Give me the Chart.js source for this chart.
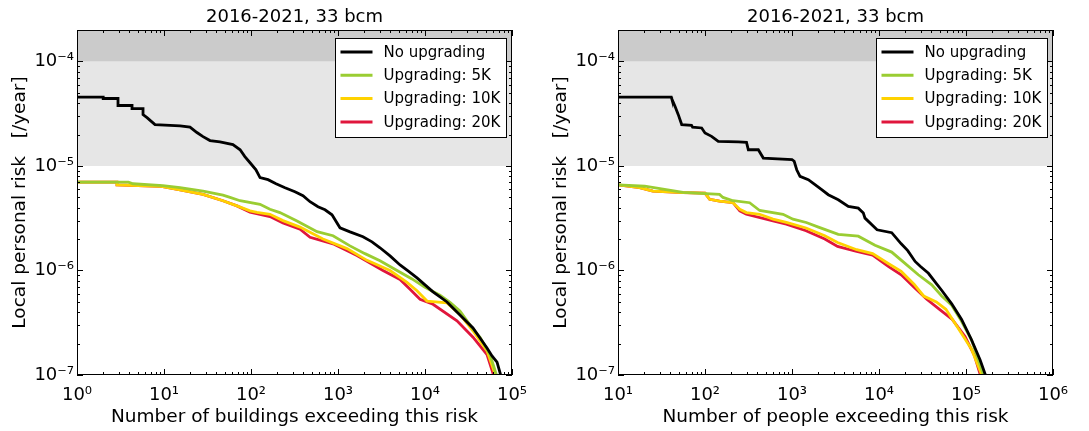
<!DOCTYPE html>
<html>
<head>
<meta charset="utf-8">
<script src="https://cdn.jsdelivr.net/npm/chart.js@4.4.1/dist/chart.umd.min.js"></script>
<style>
  body { margin: 0; background: #fff; }
  #wrap { position: relative; width: 1089px; height: 431px; }
  canvas { position: absolute; top: 0; }
</style>
</head>
<body>
<div id="wrap">
  <canvas id="left" width="545" height="431" style="left:0"></canvas>
  <canvas id="right" width="544" height="431" style="left:545px"></canvas>
</div>
<script>
// series names and colours
const seriesLabels = ['No upgrading', 'Upgrading: 5K', 'Upgrading: 10K', 'Upgrading: 20K'];
const seriesColors = ['#000000', '#9acd32', '#ffd200', '#e0163c'];

// left panel: buildings exceeding risk  [count, risk]  (curve vertices)
const bldNone = [[1,4.55e-5],[2.0,4.55e-5],[2.0,4.42e-5],[2.96,4.42e-5],[2.96,3.79e-5],[4.29,3.79e-5],[4.29,3.54e-5],
  [5.74,3.54e-5],[5.74,3.10e-5],[6.38,2.90e-5],[7.88,2.49e-5],[15.3,2.42e-5],[19.9,2.35e-5],[23.9,2.09e-5],
  [28.1,1.91e-5],[33.8,1.75e-5],[44,1.70e-5],[62,1.60e-5],[75,1.43e-5],[85,1.23e-5],[97,1.08e-5],[114,9.2e-6],
  [127,7.73e-6],[157,7.4e-6],[194,6.77e-6],[246,6.2e-6],[320,5.67e-6],[396,5.19e-6],[477,4.55e-6],[589,4.07e-6],
  [709,3.81e-6],[853,3.41e-6],[1054,2.56e-6],[1374,2.34e-6],[1937,2.10e-6],[2459,1.88e-6],[3040,1.65e-6],
  [3963,1.38e-6],[5164,1.13e-6],[6380,9.9e-7],[8098,8.5e-7],[10000,7.28e-7],[12360,6.24e-7],[14870,5.58e-7],
  [17900,5.0e-7],[20400,4.48e-7],[23300,4.01e-7],[28800,3.36e-7],[35600,2.82e-7],[42900,2.26e-7],[51600,1.81e-7],
  [58900,1.52e-7],[67300,1.33e-7],[76800,9e-8]];
const bld5K = [[1,7.0e-6],[3.9,7.0e-6],[4.4,6.76e-6],[9.7,6.5e-6],[15.3,6.2e-6],[28.1,5.75e-6],[47.6,5.25e-6],
  [57.4,5.0e-6],[74.8,4.65e-6],[127,4.3e-6],[165,3.85e-6],[215,3.58e-6],[338,2.98e-6],[574,2.35e-6],[877,2.15e-6],
  [1374,1.72e-6],[2042,1.45e-6],[3040,1.24e-6],[4770,1.0e-6],[7090,8.3e-7],[10000,6.9e-7],[14870,5.8e-7],
  [19380,4.95e-7],[25200,4.1e-7],[30400,3.3e-7],[35600,2.75e-7],[42900,2.3e-7],[55800,1.57e-7],[69000,9e-8]];
const bld10K = [[1,7.0e-6],[2.88,7.0e-6],[2.88,6.6e-6],[9.0,6.4e-6],[15.3,5.9e-6],[28.1,5.35e-6],[47.6,4.65e-6],
  [69,4.15e-6],[97.4,3.72e-6],[117,3.6e-6],[165,3.45e-6],[233,3.0e-6],[366,2.6e-6],[672,2.0e-6],[1268,1.62e-6],
  [2154,1.25e-6],[3963,1.0e-6],[6210,7.7e-7],[8090,6.4e-7],[10550,5.1e-7],[17900,4.9e-7],[25200,3.8e-7],
  [35600,2.65e-7],[51600,1.7e-7],[67300,9e-8]];
const bld20K = [[1,7.0e-6],[2.88,7.0e-6],[2.88,6.6e-6],[9.0,6.4e-6],[15.3,5.9e-6],[28.1,5.35e-6],[47.6,4.65e-6],
  [69,4.15e-6],[97.4,3.62e-6],[165,3.28e-6],[233,2.85e-6],[366,2.48e-6],[477,2.08e-6],[877,1.8e-6],[1652,1.39e-6],
  [3289,1.0e-6],[5164,8.2e-7],[6730,6.6e-7],[8770,5.3e-7],[12360,4.75e-7],[23300,3.3e-7],[35600,2.3e-7],
  [51600,1.57e-7],[63800,9e-8]];

// right panel: people exceeding risk  [count, risk]
const pplNone = [[10,4.55e-5],[41,4.55e-5],[41.4,4.42e-5],[45.2,3.73e-5],[49.3,3.10e-5],[54,2.49e-5],[70,2.45e-5],
  [72,2.35e-5],[91.6,2.31e-5],[100,2.07e-5],[119,1.92e-5],[142,1.72e-5],[242,1.70e-5],[300,1.68e-5],[315,1.43e-5],
  [410,1.43e-5],[468,1.19e-5],[1000,1.15e-5],[1060,1.11e-5],[1133,9.2e-6],[1236,7.95e-6],[1540,7.39e-6],
  [1838,6.62e-6],[2193,5.93e-6],[2612,5.31e-6],[3404,4.75e-6],[4436,4.10e-6],[5781,3.95e-6],[6607,3.54e-6],
  [6902,3.17e-6],[9500,2.45e-6],[14000,2.3e-6],[18000,1.8e-6],[21400,1.55e-6],[26000,1.22e-6],[30000,1.09e-6],
  [37000,9.4e-7],[45000,7.6e-7],[53000,6.4e-7],[68500,4.8e-7],[89000,3.4e-7],[115000,2.2e-7],[145000,1.4e-7],
  [175000,9e-8]];
const ppl5K = [[10,6.6e-6],[20.3,6.4e-6],[55.8,5.6e-6],[147,5.35e-6],[161,5.0e-6],[210,4.65e-6],[326,4.45e-6],
  [425,3.75e-6],[789,3.45e-6],[1026,3.1e-6],[1459,2.88e-6],[2014,2.6e-6],[3404,2.22e-6],[5781,2.13e-6],
  [8990,1.74e-6],[13990,1.5e-6],[19900,1.17e-6],[28300,9.1e-7],[40400,7.3e-7],[52600,5.7e-7],[68500,4.65e-7],
  [89300,3.25e-7],[116000,2.15e-7],[140000,1.37e-7],[166000,9e-8]];
const ppl10K = [[10,6.6e-6],[17.7,6.2e-6],[25.2,5.75e-6],[55.8,5.55e-6],[100,5.5e-6],[113,4.8e-6],[147,4.62e-6],
  [210,4.45e-6],[251,3.85e-6],[299,3.58e-6],[425,3.45e-6],[605,3.1e-6],[861,2.88e-6],[1450,2.55e-6],[2382,2.15e-6],
  [3340,1.85e-6],[5540,1.58e-6],[8450,1.45e-6],[12900,1.16e-6],[18000,9.8e-7],[25300,7.4e-7],[32600,5.7e-7],
  [45600,5.0e-7],[58700,4.25e-7],[82400,2.75e-7],[115000,1.78e-7],[160000,9e-8]];
const ppl20K = [[10,6.6e-6],[17.7,6.2e-6],[25.2,5.75e-6],[55.8,5.55e-6],[100,5.5e-6],[113,4.8e-6],[147,4.62e-6],
  [210,4.45e-6],[251,3.72e-6],[299,3.45e-6],[605,2.98e-6],[861,2.78e-6],[1450,2.4e-6],[2382,2.0e-6],[3340,1.7e-6],
  [5540,1.52e-6],[8450,1.4e-6],[12900,1.09e-6],[18000,9.1e-7],[25300,6.9e-7],[35400,5.3e-7],[49600,4.25e-7],
  [69500,3.4e-7],[97500,2.33e-7],[125600,1.52e-7],[152000,9e-8]];

// axes
const yTicks = [1e-7, 1e-6, 1e-5, 1e-4];
const xTicksBld = [1, 10, 100, 1e3, 1e4, 1e5];
const xTicksPpl = [10, 100, 1e3, 1e4, 1e5, 1e6];
const bandEdges = [1e-5, 1e-4, 2e-4];   // light grey band, dark grey band
const bandColors = ['#e6e6e6', '#cbcbcb'];

const FONT = 'DejaVu Sans';
const SUP = {'-':'\u207B','0':'\u2070','1':'\u00B9','2':'\u00B2','3':'\u00B3','4':'\u2074','5':'\u2075','6':'\u2076','7':'\u2077','8':'\u2078','9':'\u2079'};
function pow10(v) {
  const e = Math.round(Math.log10(v));
  return '10' + String(e).split('').map(c => SUP[c]).join('');
}

const frame = {
  id: 'frame',
  beforeDatasetsDraw(chart) {
    const {ctx, chartArea: a, scales: {y}} = chart;
    ctx.save();
    for (let i = 0; i < bandColors.length; i++) {
      const y0 = y.getPixelForValue(bandEdges[i]), y1 = y.getPixelForValue(bandEdges[i + 1]);
      ctx.fillStyle = bandColors[i];
      ctx.fillRect(a.left, y1, a.right - a.left, y0 - y1);
    }
    ctx.restore();
  },
  afterDraw(chart) {
    const {ctx, chartArea: a, scales: {x, y}} = chart;
    const o = chart.options.plugins.frame;
    ctx.save();
    ctx.strokeStyle = '#000';
    ctx.lineWidth = 1;
    // log ticks, inward on all four sides
    const line = (x0, y0, x1, y1) => { ctx.beginPath(); ctx.moveTo(x0, y0); ctx.lineTo(x1, y1); ctx.stroke(); };
    const logTicks = (s, f) => {
      const lo = Math.floor(Math.log10(s.min)), hi = Math.ceil(Math.log10(s.max));
      for (let e = lo; e <= hi; e++) for (let k = 1; k <= 9; k++) {
        const v = k * Math.pow(10, e);
        if (v < s.min * 0.999 || v > s.max * 1.001) continue;
        f(Math.round(s.getPixelForValue(v)) + 0.5, k === 1 ? 6 : 3);
      }
    };
    logTicks(x, (p, L) => { line(p, a.bottom, p, a.bottom - L); line(p, a.top, p, a.top + L); });
    logTicks(y, (p, L) => { line(a.left, p, a.left + L, p); line(a.right, p, a.right - L, p); });
    ctx.strokeRect(Math.round(a.left) + 0.5, Math.round(a.top) + 0.5, Math.round(a.right - a.left) - 1, Math.round(a.bottom - a.top) - 1);

    // title
    ctx.fillStyle = '#000';
    ctx.font = '18px ' + FONT;
    ctx.textAlign = 'center';
    ctx.textBaseline = 'middle';
    ctx.fillText(o.title, (a.left + a.right) / 2, 17);

    // legend
    const w = 171, h = 99;
    const lx = Math.round(a.right - 6 - w) + 0.5, ly = Math.round(a.top + 8) + 0.5;
    ctx.fillStyle = '#fff';
    ctx.fillRect(lx, ly, w, h);
    ctx.strokeRect(lx, ly, w, h);
    ctx.font = '15px ' + FONT;
    ctx.textAlign = 'left';
    chart.data.datasets.forEach((ds, i) => {
      const ry = ly + 13.5 + i * 23.3;
      ctx.strokeStyle = ds.borderColor;
      ctx.lineWidth = 3;
      line(lx + 5, ry, lx + 37, ry);
      ctx.fillStyle = '#000';
      ctx.fillText(ds.label, lx + 48, ry + 1);
    });
    ctx.restore();
  }
};

function makeChart(id, series, xTicks, xTitle, yWidth, yTitlePad, padRight) {
  new Chart(document.getElementById(id), {
    type: 'line',
    data: {
      datasets: series.map((s, i) => ({
        label: seriesLabels[i],
        data: s.map(p => ({x: p[0], y: p[1]})),
        borderColor: seriesColors[i],
        borderWidth: 2.8,
        pointRadius: 0,
        tension: 0,
        fill: false,
        clip: 0
      }))
    },
    options: {
      responsive: false,
      animation: false,
      events: [],
      layout: { padding: { left: 0, top: 30, right: padRight, bottom: 0 } },
      plugins: {
        legend: { display: false },
        tooltip: { enabled: false },
        frame: { title: '2016-2021, 33 bcm' }
      },
      scales: {
        x: {
          type: 'logarithmic',
          min: xTicks[0],
          max: xTicks[xTicks.length - 1],
          afterBuildTicks: s => { s.ticks = xTicks.map(v => ({value: v})); },
          afterFit: s => { s.height = 56; },
          grid: { display: false, drawTicks: false },
          border: { display: false },
          ticks: { callback: v => pow10(v), font: {family: FONT, size: 18}, color: '#000', padding: 10, maxRotation: 0, autoSkip: false },
          title: { display: true, text: xTitle, font: {family: FONT, size: 18.5}, color: '#000', padding: {top: 0, bottom: 3} }
        },
        y: {
          type: 'logarithmic',
          min: 1e-7,
          max: bandEdges[2],
          afterBuildTicks: s => { s.ticks = yTicks.map(v => ({value: v})); },
          afterFit: s => { s.width = yWidth; },
          grid: { display: false, drawTicks: false },
          border: { display: false },
          ticks: { callback: v => pow10(v), font: {family: FONT, size: 18}, color: '#000', padding: 3, autoSkip: false },
          title: { display: true, text: 'Local personal risk   [/year]', font: {family: FONT, size: 18.5}, color: '#000', padding: {top: yTitlePad, bottom: 0} }
        }
      }
    },
    plugins: [frame]
  });
}

makeChart('left', [bldNone, bld5K, bld10K, bld20K], xTicksBld, 'Number of buildings exceeding this risk', 77, 9, 33);
makeChart('right', [pplNone, ppl5K, ppl10K, ppl20K], xTicksPpl, 'Number of people exceeding this risk', 73, 5, 36);
</script>
</body>
</html>
